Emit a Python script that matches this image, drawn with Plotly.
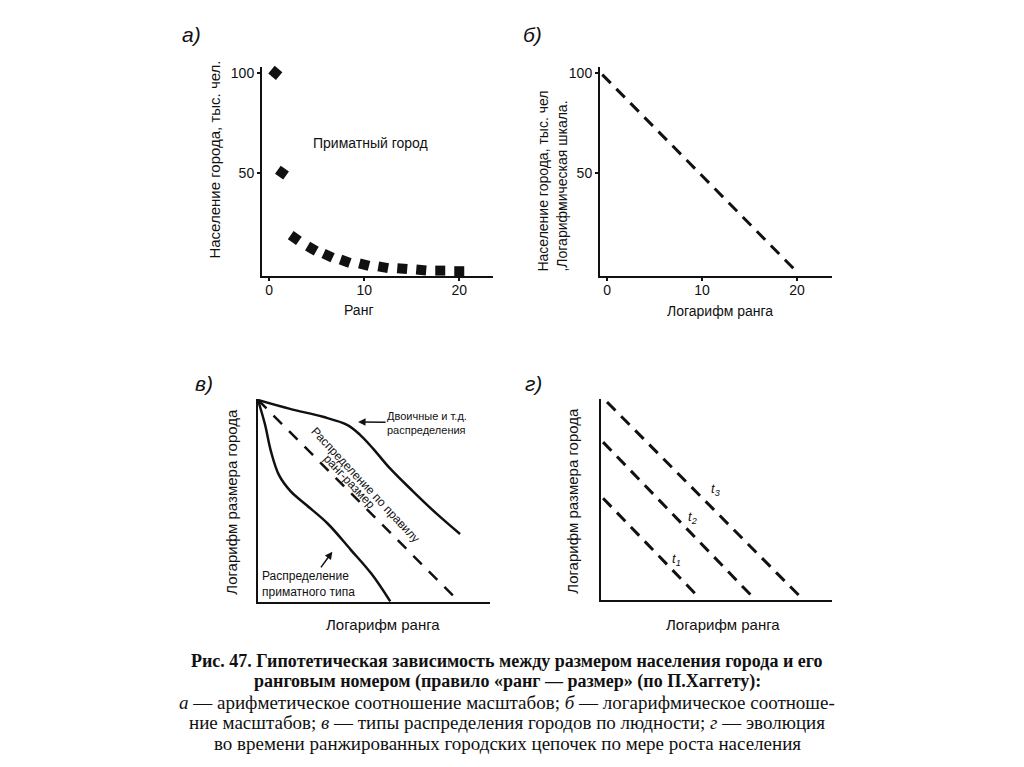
import plotly.graph_objects as go

# ---------------- data ----------------
# panel а: arithmetic scales
rank_a = [0.65, 1.35, 2.7, 4.5, 6.2, 8.0, 10.0, 12.0, 14.0, 16.0, 18.0, 20.0]
pop_a = [100.3, 50.3, 17.5, 12.2, 8.7, 5.9, 4.2, 2.9, 2.2, 1.5, 1.2, 0.9]
marker_angle_a = [40, 35, 35, 30, 25, 20, 15, 10, 5, 5, 0, 0]
ticks_ab_x = [0, 10, 20]
ticks_ab_y = [50, 100]

# panel б: log scales (rank-size line)
logrank_b = [-0.5, 20.1]
logpop_b = [99.4, 0]

# panel в: types of distribution (normalised 0..100)
prim_x = [0, 3, 5.5, 9, 14, 21, 30, 40, 49, 57]
prim_y = [100, 88, 75, 63, 55, 48, 39, 26, 14, 0.5]
bin_x = [0, 13.8, 28, 38.4, 44, 49.6, 56.9, 66.8, 77.2, 87.1]
bin_y = [100, 95.6, 91.7, 87.7, 82.8, 76, 66.2, 54.9, 43.6, 33.8]
rs_x = [0, 87]
rs_y = [100, 0]

# panel г: evolution in time
t1_x = [0.9, 40.7]
t1_y = [51, 3.5]
t2_x = [0.9, 66.7]
t2_y = [79, 0.5]
t3_x = [2.6, 87]
t3_y = [99, 1]

W, H = 1024, 767
OFF = 8  # default page margin of the html body
SANS = "Liberation Sans, Arial, sans-serif"
SERIF = "Liberation Serif, Times New Roman, serif"
BLACK = "#111111"


def px(x):
    return (x - OFF) / W


def py(y):
    return 1 - (y - OFF) / H


fig = go.Figure()

# а
fig.add_trace(go.Scatter(
    x=rank_a, y=pop_a, mode="markers", xaxis="x", yaxis="y",
    marker=dict(symbol="square", size=10, color=BLACK, angle=marker_angle_a),
    cliponaxis=False, showlegend=False, name="Приматный город"))
# б
fig.add_trace(go.Scatter(
    x=logrank_b, y=logpop_b, mode="lines", xaxis="x2", yaxis="y2",
    line=dict(color=BLACK, width=3, dash="12px,8px"), showlegend=False,
    name="ранг-размер"))
# в
fig.add_trace(go.Scatter(
    x=prim_x, y=prim_y, mode="lines", xaxis="x3", yaxis="y3",
    line=dict(color=BLACK, width=2.5, shape="spline", smoothing=1.0),
    showlegend=False, name="Распределение приматного типа"))
fig.add_trace(go.Scatter(
    x=bin_x, y=bin_y, mode="lines", xaxis="x3", yaxis="y3",
    line=dict(color=BLACK, width=2.5, shape="spline", smoothing=1.0),
    showlegend=False, name="Двоичные и т.д. распределения"))
fig.add_trace(go.Scatter(
    x=rs_x, y=rs_y, mode="lines", xaxis="x3", yaxis="y3",
    line=dict(color=BLACK, width=2.5, dash="12px,10px"),
    showlegend=False, name="Распределение по правилу ранг-размер"))
# г
for xs, ys, nm in [(t1_x, t1_y, "t1"), (t2_x, t2_y, "t2"), (t3_x, t3_y, "t3")]:
    fig.add_trace(go.Scatter(
        x=xs, y=ys, mode="lines", xaxis="x4", yaxis="y4",
        line=dict(color=BLACK, width=3, dash="12px,8px"),
        showlegend=False, name=nm))

axis_common = dict(showline=True, linecolor=BLACK, linewidth=2, showgrid=False,
                   zeroline=False, mirror=False)
tick_font = dict(family=SANS, size=14, color=BLACK)
tick_common = dict(ticks="outside", ticklen=3, tickwidth=1.5, tickcolor=BLACK,
                   tickfont=tick_font)

fig.update_layout(
    width=W, height=H, margin=dict(l=0, r=0, t=0, b=0),
    paper_bgcolor="white", plot_bgcolor="white", showlegend=False,
    xaxis=dict(**axis_common, **tick_common, domain=[px(262), px(493)],
               range=[-0.75, 23.55], tickvals=ticks_ab_x, ticklabelstandoff=-3,
               anchor="y"),
    yaxis=dict(**axis_common, **tick_common, domain=[py(274.5), py(65)],
               range=[-1.4, 103.3], tickvals=ticks_ab_y, anchor="x"),
    xaxis2=dict(**axis_common, **tick_common, domain=[px(600), px(832)],
                range=[-0.74, 23.68], tickvals=ticks_ab_x, ticklabelstandoff=-3,
                anchor="y2"),
    yaxis2=dict(**axis_common, **tick_common, domain=[py(274.5), py(65)],
                range=[-1.4, 103.3], tickvals=ticks_ab_y, anchor="x2"),
    xaxis3=dict(**axis_common, domain=[px(258), px(490)], range=[0, 100],
                showticklabels=False, ticks="", anchor="y3"),
    yaxis3=dict(**axis_common, domain=[py(602), py(398)], range=[0, 100.5],
                showticklabels=False, ticks="", anchor="x3"),
    xaxis4=dict(**axis_common, domain=[px(601), px(832)], range=[0, 100],
                showticklabels=False, ticks="", anchor="y4"),
    yaxis4=dict(**axis_common, domain=[py(600), py(398)], range=[0, 100.5],
                showticklabels=False, ticks="", anchor="x4"),
)

ann = []


def txt(x, y, text, size=14, angle=0, family=SANS, xanchor="center",
        yanchor="middle", align="center", xref="paper", yref="paper",
        style="normal", **kw):
    d = dict(x=x if xref != "paper" else px(x),
             y=y if yref != "paper" else py(y),
             xref=xref, yref=yref, text=text, showarrow=False,
             textangle=angle, xanchor=xanchor, yanchor=yanchor, align=align,
             font=dict(family=family, size=size, color=BLACK, style=style))
    d.update(kw)
    ann.append(d)


# panel letters
txt(191, 33, "а)", size=21, style="italic")
txt(532, 33, "б)", size=21, style="italic")
txt(204, 382, "в)", size=21, style="italic")
txt(533, 382, "г)", size=21, style="italic")

# panel а texts
txt(215, 158, "Население города, тыс. чел.", size=15, angle=-90)
txt(359, 309, "Ранг")
txt(370, 141, "Приматный город")

# panel б texts
txt(552, 180, "Население города, тыс. чел<br>,Логарифмическая шкала.", angle=-90,
    align="left")
txt(720, 310, "Логарифм ранга")

# panel в texts
txt(232, 501, "Логарифм размера города", size=15, angle=-90)
txt(383, 624, "Логарифм ранга", size=15)
# label with its arrow pointing to the upper curve
ann.append(dict(x=42.7, y=89.2, xref="x3", yref="y3", ax=70, ay=1,
                text="Двоичные и т.д.<br>распределения", align="left",
                font=dict(family=SANS, size=11, color=BLACK),
                showarrow=True, arrowhead=2, arrowsize=1, arrowwidth=1.5,
                arrowcolor=BLACK, standoff=1))
# label with its arrow pointing to the lower curve
ann.append(dict(x=32.3, y=25.5, xref="x3", yref="y3", ax=-24, ay=33,
                text="Распределение<br>приматного типа", align="left",
                font=dict(family=SANS, size=12, color=BLACK),
                showarrow=True, arrowhead=2, arrowsize=1, arrowwidth=1.5,
                arrowcolor=BLACK, standoff=1))
txt(46.3, 57.9, "Распределение по правилу", size=12, angle=47,
    xref="x3", yref="y3")
txt(39.6, 59.6, "ранг-размер", size=12, angle=47, xref="x3", yref="y3")

# panel г texts
txt(573, 500, "Логарифм размера города", size=15, angle=-90)
txt(723, 624, "Логарифм ранга", size=15)
txt(49.4, 55.4, "t<sub>3</sub>", size=13, xref="x4", yref="y4", style="italic")
txt(39.7, 41.2, "t<sub>2</sub>", size=13, xref="x4", yref="y4", style="italic")
txt(32.8, 20.6, "t<sub>1</sub>", size=13, xref="x4", yref="y4", style="italic")

# caption
cap = [
    (661, 18, "<b>Рис. 47. Гипотетическая зависимость между размером населения города и его</b>"),
    (681, 18, "<b>ранговым номером (правило «ранг — размер» (по П.Хаггету):</b>"),
    (702, 19, "<i>а</i> — арифметическое соотношение масштабов; <i>б</i> — логарифмическое соотноше-"),
    (722, 19, "ние масштабов; <i>в</i> — типы распределения городов по людности; <i>г</i> — эволюция"),
    (743, 19, "во времени ранжированных городских цепочек по мере роста населения"),
]
for yy, sz, t in cap:
    txt(507, yy, t, size=sz, family=SERIF)

fig.update_layout(annotations=ann)
fig.write_html("out.html")
